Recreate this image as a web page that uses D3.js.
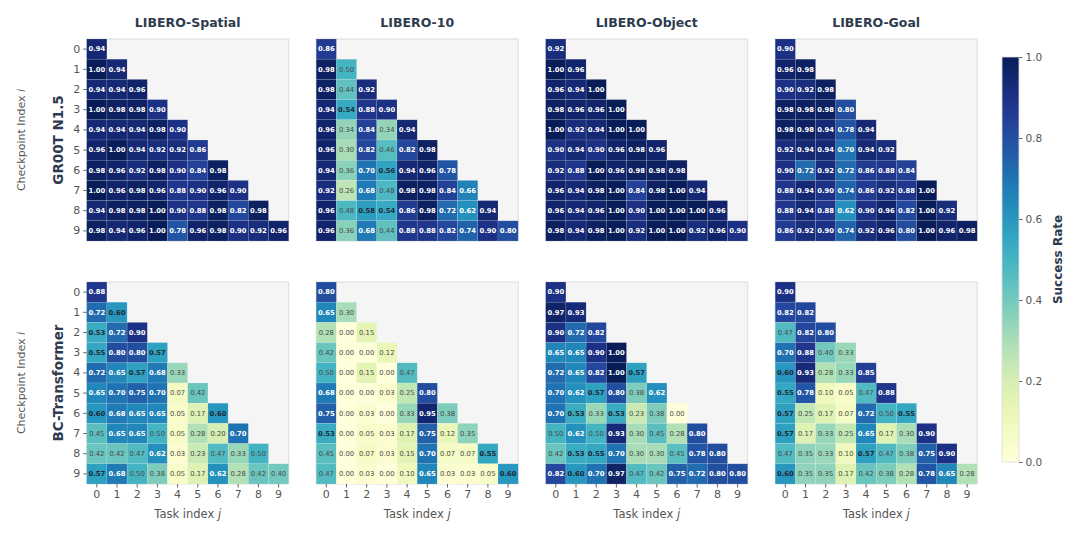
<!DOCTYPE html>
<html><head><meta charset="utf-8">
<script src="https://cdn.jsdelivr.net/npm/d3@7"></script>
<style>body{margin:0;background:#fff;} svg{display:block;font-family:"DejaVu Sans",sans-serif;}</style>
</head><body>
<svg id="c" width="1080" height="533"></svg>
<script>
const suites = ["LIBERO-Spatial","LIBERO-10","LIBERO-Object","LIBERO-Goal"];
const models = ["GR00T N1.5","BC-Transformer"];
const idx = ["0","1","2","3","4","5","6","7","8","9"];
const cbarTicks = [0,0.2,0.4,0.6,0.8,1.0];

const grootSpatial = [
[0.94],
[1.00,0.94],
[0.94,0.94,0.96],
[1.00,0.98,0.98,0.90],
[0.94,0.94,0.94,0.98,0.90],
[0.96,1.00,0.94,0.92,0.92,0.86],
[0.98,0.96,0.92,0.98,0.90,0.84,0.98],
[1.00,0.96,0.98,0.96,0.88,0.90,0.96,0.90],
[0.94,0.98,0.98,1.00,0.90,0.88,0.98,0.82,0.98],
[0.98,0.94,0.96,1.00,0.78,0.96,0.98,0.90,0.92,0.96]];
const groot10 = [
[0.86],
[0.98,0.50],
[0.98,0.44,0.92],
[0.94,0.54,0.88,0.90],
[0.96,0.34,0.84,0.34,0.94],
[0.96,0.30,0.82,0.46,0.82,0.98],
[0.94,0.36,0.70,0.56,0.94,0.96,0.78],
[0.92,0.26,0.68,0.48,0.98,0.98,0.84,0.66],
[0.96,0.48,0.58,0.54,0.86,0.98,0.72,0.62,0.94],
[0.96,0.36,0.68,0.44,0.88,0.88,0.82,0.74,0.90,0.80]];
const grootObject = [
[0.92],
[1.00,0.96],
[0.96,0.94,1.00],
[0.98,0.96,0.96,1.00],
[1.00,0.92,0.94,1.00,1.00],
[0.90,0.94,0.90,0.96,0.98,0.96],
[0.92,0.88,1.00,0.96,0.98,0.98,0.98],
[0.96,0.94,0.98,1.00,0.84,0.98,1.00,0.94],
[0.96,0.94,0.96,1.00,0.90,1.00,1.00,1.00,0.96],
[0.98,0.94,0.98,1.00,0.92,1.00,1.00,0.92,0.96,0.90]];
const grootGoal = [
[0.90],
[0.96,0.98],
[0.90,0.92,0.98],
[0.98,0.98,0.98,0.80],
[0.98,0.98,0.94,0.78,0.94],
[0.92,0.94,0.94,0.70,0.94,0.92],
[0.90,0.72,0.92,0.72,0.86,0.88,0.84],
[0.88,0.94,0.90,0.74,0.86,0.92,0.88,1.00],
[0.88,0.94,0.88,0.62,0.90,0.96,0.82,1.00,0.92],
[0.86,0.92,0.90,0.74,0.92,0.96,0.80,1.00,0.96,0.98]];
const bcSpatial = [
[0.88],
[0.72,0.60],
[0.53,0.72,0.90],
[0.55,0.80,0.80,0.57],
[0.72,0.65,0.57,0.68,0.33],
[0.65,0.70,0.75,0.70,0.07,0.42],
[0.60,0.68,0.65,0.65,0.05,0.17,0.60],
[0.45,0.65,0.65,0.50,0.05,0.28,0.20,0.70],
[0.42,0.42,0.47,0.62,0.03,0.23,0.47,0.33,0.50],
[0.57,0.68,0.50,0.38,0.05,0.17,0.62,0.28,0.42,0.40]];
const bc10 = [
[0.80],
[0.65,0.30],
[0.28,0.00,0.15],
[0.42,0.00,0.00,0.12],
[0.50,0.00,0.15,0.00,0.47],
[0.68,0.00,0.00,0.03,0.25,0.80],
[0.75,0.00,0.03,0.00,0.33,0.95,0.38],
[0.53,0.00,0.05,0.03,0.17,0.75,0.12,0.35],
[0.45,0.00,0.07,0.03,0.15,0.70,0.07,0.07,0.55],
[0.47,0.00,0.03,0.00,0.10,0.65,0.03,0.03,0.05,0.60]];
const bcObject = [
[0.90],
[0.97,0.93],
[0.90,0.72,0.82],
[0.65,0.65,0.90,1.00],
[0.72,0.65,0.82,1.00,0.57],
[0.70,0.62,0.57,0.80,0.38,0.62],
[0.70,0.53,0.33,0.53,0.23,0.38,0.00],
[0.50,0.62,0.50,0.93,0.30,0.45,0.28,0.80],
[0.42,0.53,0.55,0.70,0.30,0.30,0.45,0.78,0.80],
[0.82,0.60,0.70,0.97,0.47,0.42,0.75,0.72,0.80,0.80]];
const bcGoal = [
[0.90],
[0.82,0.82],
[0.47,0.82,0.80],
[0.70,0.88,0.40,0.33],
[0.60,0.93,0.28,0.33,0.85],
[0.55,0.78,0.10,0.05,0.47,0.88],
[0.57,0.25,0.17,0.07,0.72,0.50,0.55],
[0.57,0.17,0.33,0.25,0.65,0.17,0.30,0.90],
[0.47,0.35,0.33,0.10,0.57,0.47,0.38,0.75,0.90],
[0.60,0.35,0.35,0.17,0.42,0.38,0.28,0.78,0.65,0.28]];

const matrices = [[grootSpatial,groot10,grootObject,grootGoal],[bcSpatial,bc10,bcObject,bcGoal]];

const svg = d3.select("#c");
const color = d3.scaleSequential(d3.interpolateYlGnBu).domain([0,1]);
const size = 202, x0 = 86.7, dx = 229.5;
const panelTop = [39, 282];
const titleCol = "#2e3b4e", tickCol = "#555";

models.forEach((m, r) => {
  suites.forEach((s, c) => {
    const g = svg.append("g").attr("transform", `translate(${x0 + c*dx},${panelTop[r]})`);
    const xs = d3.scaleBand().domain(idx).range([0,size]);
    const ys = d3.scaleBand().domain(idx).range([0,size]);
    g.append("rect").attr("width", size).attr("height", size).attr("fill", "#f5f5f5").attr("stroke", "#dcdcdc").attr("stroke-width", 1);
    const cells = [];
    matrices[r][c].forEach((row, i) => row.forEach((v, j) => cells.push({i, j, v})));
    g.selectAll("rect.cell").data(cells).join("rect").attr("class","cell")
      .attr("x", d => xs(String(d.j))).attr("y", d => ys(String(d.i)))
      .attr("width", xs.bandwidth()).attr("height", ys.bandwidth())
      .attr("fill", d => color(d.v)).attr("stroke", "rgba(255,255,255,0.25)").attr("stroke-width", 0.5);
    g.selectAll("text.val").data(cells).join("text").attr("class","val")
      .attr("x", d => xs(String(d.j)) + xs.bandwidth()/2)
      .attr("y", d => ys(String(d.i)) + ys.bandwidth()/2)
      .attr("dy", "0.35em").attr("text-anchor", "middle").attr("font-size", 6.8)
      .attr("font-weight", d => d.v > 0.505 ? "bold" : "normal")
      .attr("fill", d => d.v > 0.605 ? "#fff" : (d.v > 0.505 ? "#1e2a36" : "#4a4a4a"))
      .text(d => d.v.toFixed(2));
    if (c === 0) {
      const ay = g.append("g").call(d3.axisLeft(ys).tickSize(3.5).tickPadding(3));
      ay.select(".domain").remove();
      ay.selectAll("line").attr("stroke", "#666");
      ay.selectAll("text").attr("fill", tickCol).attr("font-size", 11).attr("font-family", "DejaVu Sans");
      g.append("text").attr("transform", `translate(-24,${size/2}) rotate(-90)`).attr("text-anchor","middle")
        .attr("font-weight","bold").attr("font-size", 13.5).attr("fill", titleCol).text(m);
      const lab = g.append("text").attr("transform", `translate(-62,${size/2}) rotate(-90)`).attr("text-anchor","middle")
        .attr("font-size", 11).attr("fill", tickCol);
      lab.append("tspan").text("Checkpoint Index ");
      lab.append("tspan").attr("font-style","italic").text("i");
    }
    if (r === 0) {
      g.append("text").attr("x", size/2).attr("y", -12).attr("text-anchor","middle")
        .attr("font-weight","bold").attr("font-size", 12.5).attr("fill", titleCol).text(s);
    }
    if (r === 1) {
      const ax = g.append("g").attr("transform", `translate(0,${size})`).call(d3.axisBottom(xs).tickSize(3.5).tickPadding(3));
      ax.select(".domain").remove();
      ax.selectAll("line").attr("stroke", "#666");
      ax.selectAll("text").attr("fill", tickCol).attr("font-size", 11).attr("font-family", "DejaVu Sans");
      const lab = g.append("text").attr("x", size/2).attr("y", size + 34).attr("text-anchor","middle")
        .attr("font-size", 11.5).attr("fill", tickCol);
      lab.append("tspan").text("Task index ");
      lab.append("tspan").attr("font-style","italic").text("j");
    }
  });
});

// colorbar
const cbX = 1002, cbY = 57, cbW = 17, cbH = 405;
const defs = svg.append("defs");
const grad = defs.append("linearGradient").attr("id","cbg").attr("x1",0).attr("y1",1).attr("x2",0).attr("y2",0);
d3.range(0, 1.0001, 0.05).forEach(t => grad.append("stop").attr("offset", t).attr("stop-color", color(t)));
svg.append("rect").attr("x", cbX).attr("y", cbY).attr("width", cbW).attr("height", cbH)
  .attr("fill","url(#cbg)").attr("stroke","#dcdcdc").attr("stroke-width",0.8);
const cy = d3.scaleLinear().domain([0,1]).range([cbY+cbH, cbY]);
const cax = svg.append("g").attr("transform", `translate(${cbX+cbW},0)`)
  .call(d3.axisRight(cy).tickValues(cbarTicks).tickFormat(d3.format(".1f")).tickSize(3.5).tickPadding(3));
cax.select(".domain").remove();
cax.selectAll("line").attr("stroke","#666");
cax.selectAll("text").attr("fill", tickCol).attr("font-size", 10.5).attr("font-family","DejaVu Sans");
svg.append("text").attr("transform", `translate(${1062},${cbY+cbH/2}) rotate(-90)`).attr("text-anchor","middle")
  .attr("font-weight","bold").attr("font-size", 12).attr("fill", titleCol).text("Success Rate");
</script>
</body></html>
